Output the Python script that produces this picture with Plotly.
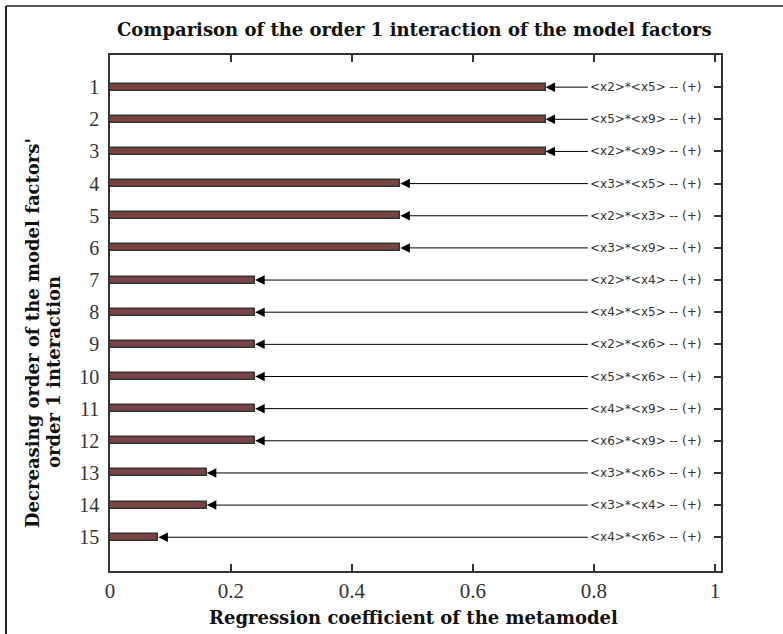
import plotly.graph_objects as go

# ---- data ----
ranks = list(range(1, 16))
coefficients = [0.72, 0.72, 0.72, 0.48, 0.48, 0.48, 0.24, 0.24, 0.24, 0.24,
                0.24, 0.24, 0.16, 0.16, 0.08]
interactions = ["<x2>*<x5>", "<x5>*<x9>", "<x2>*<x9>", "<x3>*<x5>", "<x2>*<x3>",
                "<x3>*<x9>", "<x2>*<x4>", "<x4>*<x5>", "<x2>*<x6>", "<x5>*<x6>",
                "<x4>*<x9>", "<x6>*<x9>", "<x3>*<x6>", "<x3>*<x4>", "<x4>*<x6>"]
signs = ["+"] * 15
x_ticks = [0, 0.2, 0.4, 0.6, 0.8, 1]
x_ticktext = ["0", "0.2", "0.4", "0.6", "0.8", "1"]
label_x = 0.79

W, H = 783, 634
L, R, T, B = 110, 62, 55, 63
pw, ph = W - L - R, H - T - B

def px(x):
    return (x - L) / pw

def py(y):
    return (H - B - y) / ph

AX = "#333333"
serif = "DejaVu Serif"

fig = go.Figure()
fig.add_trace(go.Bar(
    y=ranks, x=coefficients, orientation="h", width=0.22,
    marker=dict(color="#7a4444", line=dict(color="#333333", width=1.5)),
    showlegend=False, hoverinfo="skip",
))
fig.add_trace(go.Scatter(x=[None], y=[None], yaxis="y2", showlegend=False))

def esc(s):
    return s.replace("<", "&lt;").replace(">", "&gt;")

annotations = []
for r, c, lab, s in zip(ranks, coefficients, interactions, signs):
    annotations.append(dict(
        x=c, y=r, xref="x", yref="y",
        ax=label_x, ay=r, axref="x", ayref="y",
        text=esc(lab) + " -- (" + s + ")",
        xanchor="left", yanchor="middle",
        showarrow=True, arrowhead=2, arrowsize=1.9, arrowwidth=1,
        arrowcolor="#000000",
        font=dict(family="DejaVu Sans", size=12, color="#333333"),
    ))

tfont = dict(family=serif, size=18, color="#111111", weight="bold")
# y-axis title, two lines
annotations.append(dict(
    x=px(32), y=py(333), xref="paper", yref="paper",
    text="Decreasing order of the model factors'", textangle=-90,
    showarrow=False, xanchor="center", yanchor="middle", font=tfont,
))
annotations.append(dict(
    x=px(53), y=py(372), xref="paper", yref="paper",
    text="order 1 interaction", textangle=-90,
    showarrow=False, xanchor="center", yanchor="middle", font=tfont,
))
# x-axis title
annotations.append(dict(
    x=px(413), y=py(617), xref="paper", yref="paper",
    text="Regression coefficient of the metamodel",
    showarrow=False, xanchor="center", yanchor="middle", font=tfont,
))
# title
annotations.append(dict(
    x=px(414), y=py(30), xref="paper", yref="paper",
    text="Comparison of the order 1 interaction of the model factors",
    showarrow=False, xanchor="center", yanchor="middle", font=tfont,
))

shapes = [
    dict(type="line", xref="paper", yref="paper", x0=px(6), x1=px(6),
         y0=py(6), y1=py(H + 2), line=dict(color="#222222", width=2)),
    dict(type="line", xref="paper", yref="paper", x0=px(6), x1=px(W + 2),
         y0=py(6), y1=py(6), line=dict(color="#222222", width=1.5)),
]

fig.update_layout(
    width=W, height=H,
    margin=dict(l=L, r=R, t=T, b=B),
    paper_bgcolor="white", plot_bgcolor="white",
    bargap=0,
    xaxis=dict(range=[0, 1.01], tickvals=x_ticks, ticktext=x_ticktext,
               ticks="inside", ticklen=7, tickcolor=AX, tickwidth=1.5,
               showline=True, linecolor=AX, linewidth=1.5, mirror="ticks",
               showgrid=False, zeroline=False, ticklabelstandoff=0,
               tickfont=dict(family="Liberation Serif", size=21, color="#333333")),
    yaxis=dict(range=[16.05, 0], tickvals=ranks, ticktext=[str(r) for r in ranks],
               ticks="", showline=True, linecolor=AX, linewidth=1.5, mirror=True,
               showgrid=False, zeroline=False, ticklabelstandoff=5,
               tickfont=dict(family="Liberation Serif", size=20, color="#333333")),
    yaxis2=dict(range=[16.05, 0], overlaying="y", side="right", anchor="x",
                tickvals=ranks, ticks="inside", ticklen=7, tickcolor=AX,
                tickwidth=1.5, showticklabels=False, showline=False,
                showgrid=False, zeroline=False),
    annotations=annotations,
    shapes=shapes,
    showlegend=False,
)

fig.write_html("out.html")
